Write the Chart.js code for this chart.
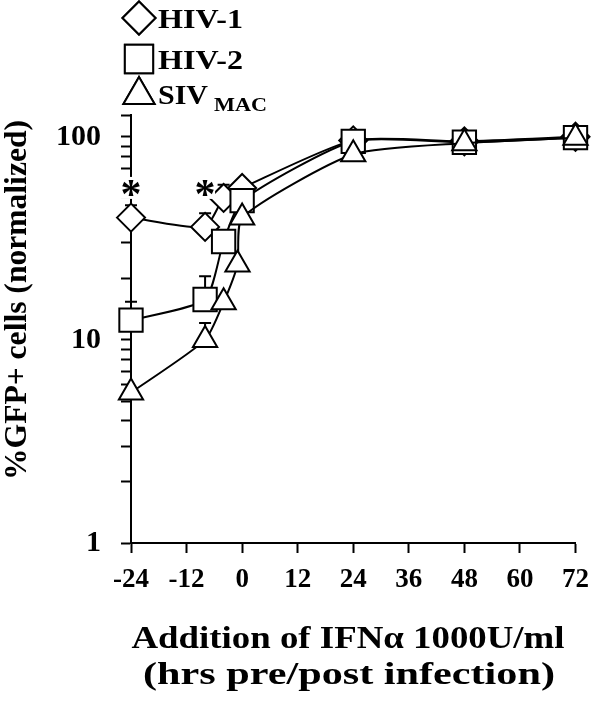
<!DOCTYPE html>
<html>
<head>
<meta charset="UTF-8">
<title>IFN addition time course</title>
<script src="https://cdn.jsdelivr.net/npm/chart.js"></script>
<style>
  html, body { margin: 0; padding: 0; background: #fff; }
  canvas { display: block; }
</style>
</head>
<body>
<canvas id="chart" width="600" height="707"></canvas>
<script>
// values (hrs relative to infection, % GFP+ normalized)
const hiv1Hours = [-24, -8, -4, 0, 24, 48, 72];
const hiv1Values = [40, 36, 50, 56, 96, 95, 100];
const hiv1ErrTop = [46, 42, 58, null, null, null, null];

const hiv2Hours = [-24, -8, -4, 0, 24, 48, 72];
const hiv2Values = [12.5, 15.8, 30.5, 48.5, 95, 94, 99];
const hiv2ErrTop = [15.4, 20.6, null, null, null, null, null];

const sivHours = [-24, -8, -4, -1, 0, 24, 48, 72];
const sivValues = [5.5, 10, 15.3, 23.5, 40, 82, 93, 99];
const sivErrTop = [null, 12.1, null, null, null, null, null, null];

const starHours = [-24, -8];
const starValues = [56, 56];

const xTicks = [-24, -12, 0, 12, 24, 36, 48, 60, 72];
const yTicks = [1, 2, 3, 4, 5, 6, 7, 8, 9, 10, 20, 30, 40, 50, 60, 70, 80, 90, 100, 128];
const yLabels = [1, 10, 100];

const serif = "'Liberation Serif', 'DejaVu Serif', serif";

function points(hours, values) {
  return hours.map((h, i) => ({ x: h, y: values[i] }));
}

function series(label, hours, values, errTop, style, radius, order) {
  return {
    label: label,
    data: points(hours, values),
    errTop: errTop,
    showLine: true,
    borderColor: '#000',
    borderWidth: 2,
    tension: 0.2,
    pointStyle: style,
    pointRadius: radius,
    pointHoverRadius: radius,
    pointBackgroundColor: '#fff',
    pointBorderColor: '#000',
    pointBorderWidth: 2,
    clip: false,
    order: order
  };
}

// text squeezed/stretched horizontally to a given width
function fitText(ctx, text, x, y, width, align) {
  const w = ctx.measureText(text).width;
  ctx.save();
  ctx.translate(x, y);
  ctx.scale(width / w, 1);
  ctx.textAlign = align || 'center';
  ctx.fillText(text, 0, 0);
  ctx.restore();
}

// error bars (upper half only), drawn under the markers
const errorBars = {
  id: 'errorBars',
  beforeDatasetsDraw(chart) {
    const ctx = chart.ctx;
    const xs = chart.scales.x, ys = chart.scales.y;
    ctx.save();
    ctx.strokeStyle = '#000';
    ctx.lineWidth = 2;
    chart.data.datasets.forEach(ds => {
      ds.data.forEach((p, i) => {
        const top = ds.errTop[i];
        if (top == null) return;
        const px = xs.getPixelForValue(p.x);
        const py = ys.getPixelForValue(p.y);
        const pe = ys.getPixelForValue(top);
        ctx.beginPath();
        ctx.moveTo(px, py);
        ctx.lineTo(px, pe);
        ctx.moveTo(px - 6, pe);
        ctx.lineTo(px + 6, pe);
        ctx.stroke();
      });
    });
    ctx.restore();
  }
};

// significance stars, titles and legend
const decorations = {
  id: 'decorations',
  afterDraw(chart) {
    const ctx = chart.ctx;
    const xs = chart.scales.x, ys = chart.scales.y;
    ctx.save();
    ctx.fillStyle = '#000';

    ctx.font = 'bold 42px ' + serif;
    const m = ctx.measureText('*');
    starHours.forEach((h, i) => {
      const cx = xs.getPixelForValue(h);
      const cy = ys.getPixelForValue(starValues[i]);
      ctx.fillStyle = '#fff';
      ctx.fillRect(cx - 10, cy - 11, 20, 22);
      ctx.fillStyle = '#000';
      ctx.textAlign = 'center';
      ctx.textBaseline = 'alphabetic';
      const base = cy - (m.actualBoundingBoxDescent - m.actualBoundingBoxAscent) / 2;
      ctx.fillText('*', cx, base);
    });

    // axis titles
    ctx.textBaseline = 'middle';
    ctx.font = 'bold 31px ' + serif;
    fitText(ctx, 'Addition of IFNα 1000U/ml', 348, 640, 433);
    fitText(ctx, '(hrs pre/post infection)', 349, 676, 412);
    ctx.save();
    ctx.translate(18, 300);
    ctx.rotate(-Math.PI / 2);
    fitText(ctx, '%GFP+ cells (normalized)', 0, 0, 360);
    ctx.restore();

    // legend
    const draw = Chart.helpers.drawPoint;
    ctx.strokeStyle = '#000';
    ctx.lineWidth = 2;
    const items = [
      { style: 'rectRot', r: 16.5, cy: 18, text: 'HIV-1', base: 28, w: 85 },
      { style: 'rect', r: 20, cy: 59, text: 'HIV-2', base: 69, w: 85 },
      { style: 'triangle', r: 18, cy: 95, text: 'SIV', sub: 'MAC', base: 104, w: 50, sw: 53 }
    ];
    items.forEach(it => {
      ctx.fillStyle = '#fff';
      draw(ctx, { pointStyle: it.style, radius: it.r, borderWidth: 2 }, 139, it.cy);
      ctx.fill();
      ctx.stroke();
      ctx.fillStyle = '#000';
      ctx.textBaseline = 'alphabetic';
      ctx.font = 'bold 28px ' + serif;
      fitText(ctx, it.text, 158, it.base, it.w, 'left');
      if (it.sub) {
        ctx.font = 'bold 19px ' + serif;
        fitText(ctx, it.sub, 158 + it.w + 6, it.base + 7, it.sw, 'left');
      }
    });
    ctx.restore();
  }
};

new Chart(document.getElementById('chart'), {
  type: 'scatter',
  data: {
    datasets: [
      series('HIV-1', hiv1Hours, hiv1Values, hiv1ErrTop, 'rectRot', 14, 3),
      series('HIV-2', hiv2Hours, hiv2Values, hiv2ErrTop, 'rect', 16.5, 2),
      series('SIVMAC', sivHours, sivValues, sivErrTop, 'triangle', 14, 1)
    ]
  },
  options: {
    responsive: false,
    animation: false,
    layout: { padding: { top: 115, right: 18, left: 0, bottom: 0 } },
    plugins: { legend: { display: false }, tooltip: { enabled: false } },
    scales: {
      x: {
        type: 'linear',
        min: -24,
        max: 72,
        afterBuildTicks: s => { s.ticks = xTicks.map(v => ({ value: v })); },
        afterFit: s => { s.height = 164; },
        ticks: {
          color: '#000',
          padding: 11,
          font: { family: serif, size: 27, weight: 'bold' }
        },
        grid: { drawOnChartArea: false, tickLength: 10, tickWidth: 2, tickColor: '#000' },
        border: { color: '#000', width: 2 }
      },
      y: {
        type: 'logarithmic',
        min: 1,
        max: 128,
        afterBuildTicks: s => { s.ticks = yTicks.map(v => ({ value: v })); },
        afterFit: s => { s.width = 131; },
        ticks: {
          autoSkip: false,
          color: '#000',
          padding: 20,
          font: { family: serif, size: 30, weight: 'bold' },
          callback: v => yLabels.includes(v) ? String(v) : ''
        },
        grid: { drawOnChartArea: false, tickLength: 10, tickWidth: 2, tickColor: '#000' },
        border: { color: '#000', width: 2 }
      }
    }
  },
  plugins: [errorBars, decorations]
});
</script>
</body>
</html>
